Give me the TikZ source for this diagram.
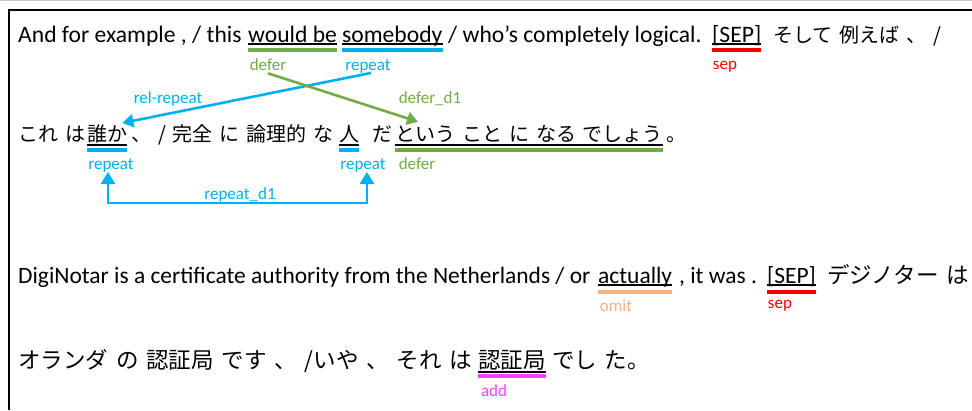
\documentclass[tikz,border=0pt]{standalone}
\usepackage{fontspec}
\setmainfont{Carlito}
\newfontfamily\jp[WordSpace=1.55]{Noto Sans CJK JP}
\usetikzlibrary{arrows.meta,calc}
\definecolor{cgreen}{HTML}{70AD47}
\definecolor{cblue}{HTML}{00B0F0}
\definecolor{cred}{HTML}{FF0000}
\definecolor{corange}{HTML}{F4B183}
\definecolor{cmag}{HTML}{FF40FF}
\begin{document}
\begin{tikzpicture}[x=1pt,y=-1pt,
  txt/.style={inner sep=0pt, anchor=base west, font=\fontsize{23.6}{28}\selectfont},
  txtb/.style={inner sep=0pt, anchor=base west, font=\fontsize{23.45}{28}\selectfont},
  jpa/.style={inner sep=0pt, anchor=base west, font=\jp\fontsize{20}{24}\selectfont},
  jpb/.style={inner sep=0pt, anchor=base west, font=\jp\fontsize{22.5}{27}\selectfont},
  lab/.style={inner sep=0pt, anchor=base, font=\fontsize{17}{20}\selectfont},
  bar/.style={line width=3.5pt},
  ul/.style={line width=1.1pt, black},
  conn/.style={line width=2.6pt, -{Triangle[length=11pt,width=13pt]}},
  dconn/.style={line width=2.8pt, {Triangle[length=12pt,width=14pt]}-{Triangle[length=12pt,width=14pt]}},
]
\useasboundingbox (0,0) rectangle (972,410);
\fill[white] (0,0) rectangle (972,410);
% frame
\draw[gray!45, line width=1pt] (0,0.5) -- (972,0.5);
\draw[line width=2pt] (9,410) -- (9,10) -- (972,10);

% ---------- line 1 ----------
\node[txt] (l1a) at (18,42) {And for example , / this};
\node[txt] (would) at (248,42) {would be};
\node[txt] (somebody) at (342,42) {somebody};
\node[txt] (l1d) at (448,42) {/ who's completely logical.};
\node[txt] (sepa) at (712,42) {[SEP]};
\node[jpa] (l1j) at (773,42) {そして 例えば 、 /};

\draw[ul] ([yshift=-2pt]would.base west) -- ([yshift=-2pt]would.base east);
\draw[bar,cgreen] ([yshift=-8pt]would.base west) -- ([yshift=-8pt]would.base east);
\draw[ul] ([yshift=-2pt]somebody.base west) -- ([yshift=-2pt]somebody.base east);
\draw[bar,cblue] ([yshift=-8pt]somebody.base west) -- ([yshift=-8pt]somebody.base east);
\draw[ul] ([yshift=-2pt]sepa.base west) -- ([yshift=-2pt]sepa.base east);
\draw[bar,cred] ([yshift=-8pt]sepa.base west) -- ([yshift=-8pt]sepa.base east);

\node[lab,cgreen] (defA) at (268,70) {defer};
\node[lab,cblue] (repA) at (368,70) {repeat};
\node[lab,cred] (sepA) at (725,69) {sep};

% ---------- line 2 ----------
\node[jpa] (l2a) at (18,141) {これ は};
\node[jpa] (dareka) at (87,141) {誰か};
\node[jpa] (l2c) at (131,141) {、 / 完全 に 論理的 な};
\node[jpa] (hito) at (339,141) {人};
\node[jpa] (l2e) at (372,141) {だ};
\node[jpa] (toiu) at (395,141) {という こと に なる でしょう};
\node[jpa] (l2g) at ([xshift=3pt]toiu.base east) {。};

\draw[ul] ([yshift=-4pt]dareka.base west) -- ([yshift=-4pt]dareka.base east);
\draw[bar,cblue] ([yshift=-9pt]dareka.base west) -- ([yshift=-9pt]dareka.base east);
\draw[ul] ([yshift=-4pt]hito.base west) -- ([yshift=-4pt]hito.base east);
\draw[bar,cblue] ([yshift=-9pt]hito.base west) -- ([yshift=-9pt]hito.base east);
\draw[ul] ([yshift=-4pt]toiu.base west) -- ([yshift=-4pt]toiu.base east);
\draw[bar,cgreen] ([yshift=-9pt]toiu.base west) -- ([yshift=-9pt]toiu.base east);

\node[lab,cblue] (repB) at (111,169) {repeat};
\node[lab,cblue] (repC) at (363,169) {repeat};
\node[lab,cgreen] (defB) at (417,169) {defer};

% connectors between line 1 and line 2
\node[lab,cblue] (relrep) at (168,103) {rel-repeat};
\node[lab,cgreen] (defd) at (430,103) {defer\_d1};
\coordinate (relS) at ([xshift=3pt]repA.south);
\coordinate (relT) at ([xshift=-5pt,yshift=1pt]dareka.north east);
\coordinate (defS) at ([yshift=-3pt]defA.south);
\coordinate (defT) at ([xshift=23pt,yshift=3pt]toiu.north west);
\draw[conn,cblue] (relS) -- (relT);
\draw[conn,cgreen] (defS) -- (defT);

% repeat_d1
\coordinate (ra) at (108,172);
\coordinate (rb) at (367,172);
\draw[dconn,cblue] (ra) -- ++(0,31) -| (rb);
\node[lab,cblue] (repd) at (240,199) {repeat\_d1};

% ---------- line 3 ----------
\node[txtb] (l3a) at (18,283) {DigiNotar is a certificate authority from the Netherlands / or};
\node[txtb] (actually) at (598,283) {actually};
\node[txtb] (l3c) at (679,283) {, it was .};
\node[txtb] (sepb) at (767,283) {[SEP]};
\node[jpb] (l3j) at (827,283) {デジノター は};

\draw[ul] ([yshift=-2pt]actually.base west) -- ([yshift=-2pt]actually.base east);
\draw[bar,corange] ([yshift=-9pt]actually.base west) -- ([yshift=-9pt]actually.base east);
\draw[ul] ([yshift=-2pt]sepb.base west) -- ([yshift=-2pt]sepb.base east);
\draw[bar,cred] ([yshift=-9pt]sepb.base west) -- ([yshift=-9pt]sepb.base east);

\node[lab,corange] (omit) at (616,311) {omit};
\node[lab,cred] (sepB) at (780,308) {sep};

% ---------- line 4 ----------
\node[jpb] (l4a) at (18,368) {オランダ の 認証局 です 、 /いや 、 それ は};
\node[jpb] (ninsho) at (478,368) {認証局};
\node[jpb] (l4c) at ([xshift=6pt]ninsho.base east) {でし た。};

\draw[ul] ([yshift=-4pt]ninsho.base west) -- ([yshift=-4pt]ninsho.base east);
\draw[bar,cmag] ([yshift=-8pt]ninsho.base west) -- ([yshift=-8pt]ninsho.base east);
\node[lab,cmag] (add) at (494,396) {add};
\end{tikzpicture}
\end{document}
